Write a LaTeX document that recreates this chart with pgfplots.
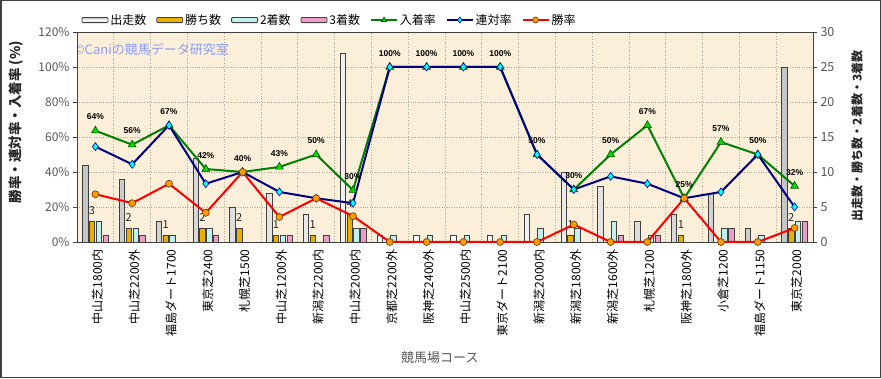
\documentclass[border=0pt]{standalone}
\usepackage{fontspec}
\setmainfont{Noto Sans CJK JP}
\newfontfamily\labfont{Liberation Sans}
\usepackage{pgfplots}
\pgfplotsset{compat=1.18}
\usepackage{pgfplotstable}
\definecolor{bgc}{HTML}{FBEFDA}
\definecolor{gridc}{HTML}{ABA498}
\definecolor{winc}{HTML}{E8B000}
\definecolor{secc}{HTML}{BFF2EE}
\definecolor{thrc}{HTML}{EE9CC8}
\definecolor{grn}{HTML}{008000}
\definecolor{grnm}{HTML}{00DD00}
\definecolor{nav}{HTML}{000080}
\definecolor{cyn}{HTML}{00FFFF}
\definecolor{red1}{HTML}{FF0000}
\definecolor{org}{HTML}{FF9A00}
\definecolor{wm}{HTML}{8C9CF0}
\definecolor{axc}{HTML}{404040}
\definecolor{tkc}{HTML}{555555}

\pgfplotsset{
  lineleg/.style={legend image code/.code={\draw[##1, line width=1.8pt, mark size=3pt, mark indices={2}] plot coordinates {(0pt,0pt) (13pt,0pt) (26pt,0pt)};}},
  boxleg/.style={legend image code/.code={\draw[axc, line width=0.8pt, fill=#1, rounded corners=1pt] (0pt,-2.6pt) rectangle (26pt,2.6pt);}},
  runleg/.style={legend image code/.code={\draw[axc, line width=0.8pt, top color=gray!50, bottom color=gray!50, middle color=white, rounded corners=1pt] (0pt,-2.6pt) rectangle (26pt,2.6pt);}},
}

\pgfplotstableread{
x runs wins second third place ren win
1 11 3 3 1 63.6 54.5 27.3
2 9 2 2 1 55.6 44.4 22.2
3 3 1 1 0 66.7 66.7 33.3
4 12 2 2 1 41.7 33.3 16.7
5 5 2 0 0 40 40 40
6 7 1 1 1 42.9 28.6 14.3
7 4 1 0 1 50 25 25
8 27 4 2 2 29.6 22.2 14.8
9 1 0 1 0 100 100 0
10 1 0 1 0 100 100 0
11 1 0 1 0 100 100 0
12 1 0 1 0 100 100 0
13 4 0 2 0 50 50 0
14 10 1 2 0 30 30 10
15 8 0 3 1 50 37.5 0
16 3 0 1 1 66.7 33.3 0
17 4 1 0 0 25 25 25
18 7 0 2 2 57.1 28.6 0
19 2 0 1 0 50 50 0
20 25 2 3 3 32 20 8
}\data

\begin{document}
\begin{tikzpicture}
\useasboundingbox (0pt,0pt) rectangle (881pt,378pt);

% ---------- bar axis (right scale) ----------
\begin{axis}[
  at={(77pt,136pt)}, anchor=south west,
  scale only axis, width=736pt, height=210pt,
  xmin=0.5, xmax=20.5, ymin=0, ymax=30,
  /pgf/number format/assume math mode=true,
  axis background/.style={fill=bgc},
  ybar=1.3pt, bar width=5.5pt,
  xtick={1,...,20},
  xticklabels={中山芝1800内,中山芝2200外,福島ダート1700,東京芝2400,札幌芝1500,中山芝1200外,新潟芝2200内,中山芝2000内,京都芝2200外,阪神芝2400外,中山芝2500内,東京ダート2100,新潟芝2000内,新潟芝1800外,新潟芝1600外,札幌芝1200,阪神芝1800外,小倉芝1200,福島ダート1150,東京芝2000},
  xticklabel style={rotate=90, anchor=east, font=\fontsize{12}{12}\selectfont, text=black, yshift=-2pt},
  minor xtick={1.5,2.5,...,19.5},
  xminorgrids,
  xtick style={draw=none},
  minor tick length=0pt,
  ytick={0,5,...,30}, yticklabels={0,5,10,15,20,25,30},
  ytick pos=right, yticklabel pos=right,
  yticklabel style={font=\fontsize{12.5}{12.5}\selectfont, text=tkc},
  tick align=outside, major tick length=4pt,
  ymajorgrids,
  grid style={gridc, dotted, line width=0.7pt},
  minor grid style={gridc, dotted, line width=0.7pt},
  axis line style={axc, line width=0.8pt},
  ytick style={axc},
  ylabel={出走数・勝ち数・2着数・3着数},
  ylabel style={at={(axis description cs:1.0598,0.505)}, anchor=center, font=\bfseries\fontsize{12}{12}\selectfont, text=black!85},
  xlabel={競馬場コース},
  xlabel style={at={(axis description cs:0.493,-0.552)}, anchor=center, font=\fontsize{13}{13}\selectfont, text=tkc},
]
\addplot[draw=axc, line width=0.7pt, left color=gray!45, right color=gray!45, middle color=white] table[x=x, y=runs] {\data};
\addplot[draw=axc, line width=0.7pt, fill=winc,
  nodes near coords={\pgfmathfloatifflags{\pgfplotspointmeta}{0}{}{\pgfmathprintnumber{\pgfplotspointmeta}}},
  nodes near coords style={font=\fontsize{11}{11}\selectfont, text=black!85, yshift=3pt}] table[x=x, y=wins] {\data};
\addplot[draw=axc, line width=0.7pt, fill=secc] table[x=x, y=second] {\data};
\addplot[draw=axc, line width=0.7pt, fill=thrc] table[x=x, y=third] {\data};
\node[text=wm, anchor=west, font=\fontsize{13}{13}\selectfont] at (rel axis cs:-0.009,0.915) {©Caniの競馬データ研究室};
\end{axis}

% ---------- line axis (left scale) ----------
\begin{axis}[
  at={(77pt,136pt)}, anchor=south west,
  scale only axis, width=736pt, height=210pt,
  xmin=0.5, xmax=20.5, ymin=0, ymax=120,
  /pgf/number format/assume math mode=true,
  xtick=\empty,
  ytick={0,20,...,120},
  yticklabels={0\%,20\%,40\%,60\%,80\%,100\%,120\%},
  ytick pos=left,
  yticklabel style={font=\fontsize{12}{12}\selectfont, text=tkc},
  tick align=outside, major tick length=4pt,
  axis line style={axc, line width=0.8pt},
  ytick style={axc},
  ylabel={勝率・連対率・入着率 (\%)},
  ylabel style={at={(axis description cs:-0.0829,0.571)}, anchor=center, font=\bfseries\fontsize{13.5}{13.5}\selectfont, text=black!85},
  clip=false,
  legend columns=7,
  legend cell align=left,
  legend style={at={(axis description cs:0.006,1.057)}, anchor=west, draw=none, fill=none,
    font=\fontsize{12}{12}\selectfont, inner sep=0pt,
    /tikz/every even column/.append style={column sep=8pt}},
]
\addlegendimage{runleg}
\addlegendentry{出走数}
\addlegendimage{boxleg=winc}
\addlegendentry{勝ち数}
\addlegendimage{boxleg=secc}
\addlegendentry{2着数}
\addlegendimage{boxleg=thrc}
\addlegendentry{3着数}

\addplot[color=grn, line width=2pt, mark=triangle*, mark size=4.5pt,
  mark options={fill=grnm, draw=black!70!green, line width=0.6pt},
  lineleg,
  point meta=y,
  nodes near coords={\pgfmathprintnumber[fixed,precision=0]{\pgfplotspointmeta}\%},
  nodes near coords style={font=\labfont\bfseries\fontsize{8.5}{9}\selectfont, text=black, yshift=7pt}]
  table[x=x, y=place] {\data};
\addlegendentry{入着率}
\addplot[color=nav, line width=2pt, mark=diamond*, mark size=4pt,
  mark options={fill=cyn, draw=nav, line width=0.6pt},
  lineleg]
  table[x=x, y=ren] {\data};
\addlegendentry{連対率}
\addplot[color=red1, line width=2pt, mark=*, mark size=3.5pt,
  mark options={fill=org, draw=black!60!orange, line width=0.6pt},
  lineleg]
  table[x=x, y=win] {\data};
\addlegendentry{勝率}
\end{axis}
\draw[axc, line width=1.5pt] (0.75pt,0.75pt) rectangle (880.25pt,377.25pt);
\end{tikzpicture}
\end{document}
